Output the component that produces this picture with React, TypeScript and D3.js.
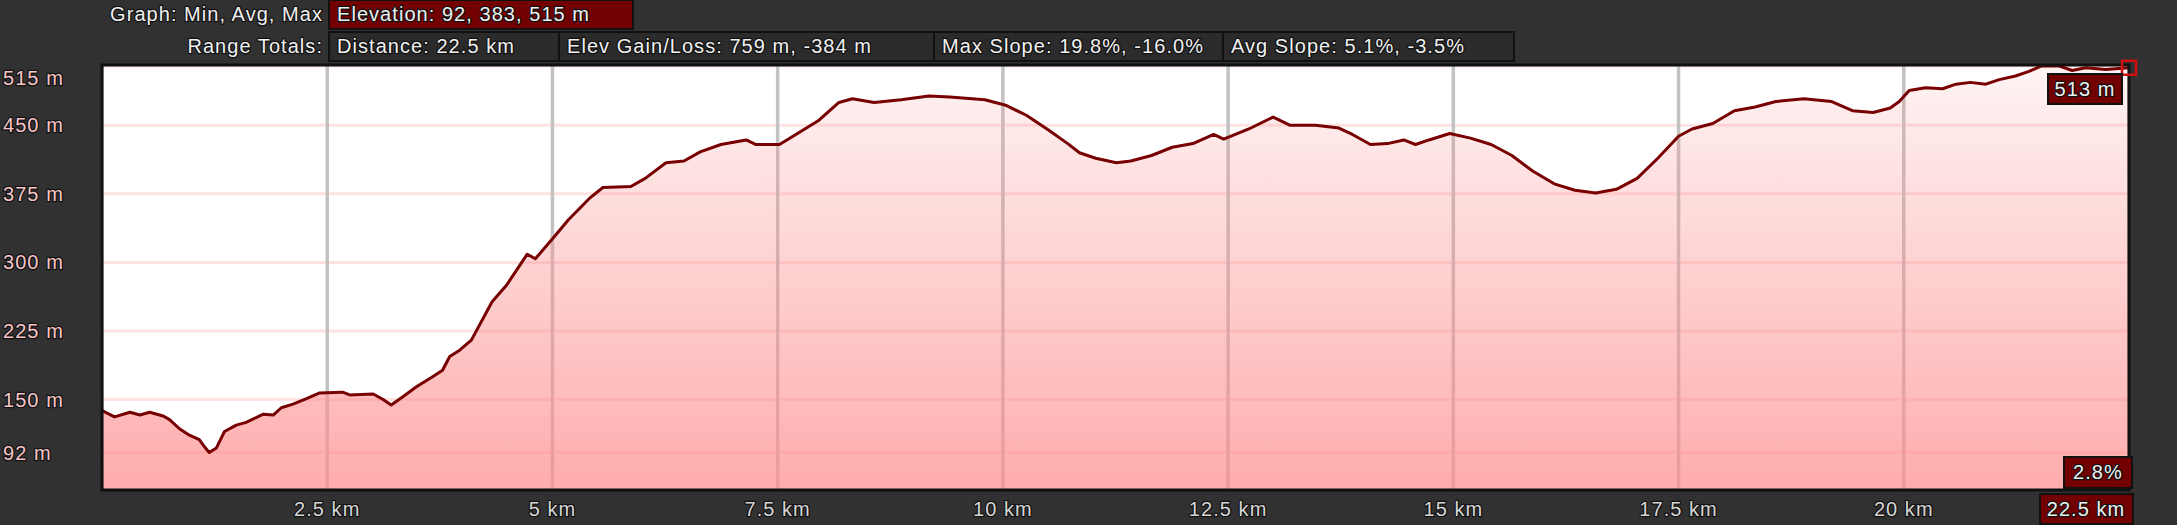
import React from 'react';
import * as d3 from 'd3';

// elevation profile
const distanceKm = [
  0, 0.14, 0.31, 0.42, 0.53, 0.68, 0.75, 0.86, 0.97, 1.08, 1.14, 1.19, 1.27, 1.36, 1.49, 1.6, 1.79, 1.9, 1.99, 2.12,
  2.27, 2.41, 2.67, 2.75, 3.01, 3.12, 3.21, 3.34, 3.49, 3.67, 3.78, 3.86, 3.97, 4.1, 4.33, 4.49, 4.72, 4.81, 5.02, 5.18,
  5.41, 5.56, 5.87, 6.03, 6.26, 6.46, 6.64, 6.87, 7.15, 7.26, 7.52, 7.72, 7.95, 8.18, 8.33, 8.57, 8.87, 9.18, 9.41, 9.8,
  10.03, 10.26, 10.49, 10.72, 10.85, 11.03, 11.26, 11.42, 11.65, 11.88, 12.11, 12.34, 12.45, 12.73, 13.0, 13.19, 13.47, 13.73, 13.88, 14.08,
  14.27, 14.45, 14.58, 14.73, 14.96, 15.19, 15.42, 15.65, 15.88, 16.12, 16.35, 16.58, 16.81, 17.04, 17.27, 17.5, 17.65, 17.88, 18.12, 18.35,
  18.58, 18.89, 19.2, 19.43, 19.66, 19.85, 19.95, 20.06, 20.24, 20.43, 20.58, 20.74, 20.91, 21.06, 21.24, 21.39, 21.53, 21.72, 21.87, 22.02,
  22.24, 22.5,
];
const elevationM = [
  138, 131, 136, 133, 136, 132, 128, 118, 111, 106, 98, 92, 97, 115, 122, 125, 134, 133, 141, 145,
  151, 157, 158, 155, 156, 150, 144, 153, 164, 175, 182, 197, 204, 215, 257, 275, 309, 304, 328, 347,
  370, 382, 383, 392, 409, 411, 421, 429, 434, 429, 429, 441, 455, 475, 479, 475, 478, 482, 481, 478,
  472, 461, 446, 430, 420, 414, 409, 411, 417, 426, 430, 440, 435, 446, 459, 450, 450, 447, 440, 429,
  430, 434, 429, 434, 441, 436, 429, 417, 400, 386, 379, 376, 380, 392, 414, 438, 446, 452, 466, 470,
  476, 479, 476, 466, 464, 469, 476, 488, 491, 490, 495, 497, 495, 500, 504, 509, 515, 515, 510, 513,
  511, 513,
];

const yTicks = [92, 150, 225, 300, 375, 450, 515];
const xTicks = [0, 2.5, 5, 7.5, 10, 12.5, 15, 17.5, 20, 22.5];
const xTickLabels = ['', '2.5 km', '5 km', '7.5 km', '10 km', '12.5 km', '15 km', '17.5 km', '20 km', ''];

const graphLabel = 'Graph: Min, Avg, Max';
const elevationSummary = 'Elevation: 92, 383, 515 m';
const rangeLabel = 'Range Totals:';
const rangeTotals = ['Distance: 22.5 km', 'Elev Gain/Loss: 759 m, -384 m', 'Max Slope: 19.8%, -16.0%', 'Avg Slope: 5.1%, -3.5%'];
const endElevation = '513 m';
const endSlope = '2.8%';
const endDistance = '22.5 km';

const W = 2177;
const H = 525;
const plot = { left: 102, right: 2129, top: 65, bottom: 490 };
const boxEdges = [329, 559, 934, 1223, 1514];

const font = { fontFamily: '"Liberation Sans", Arial, sans-serif', fontSize: 20, letterSpacing: 1.05 };

function Label({ x, y, anchor = 'start', fill = '#f0f0f0', children }: any) {
  return (
    <text x={x} y={y} textAnchor={anchor} dominantBaseline="central" fill={fill}
      stroke="#111" strokeWidth={2.5} strokeLinejoin="round" paintOrder="stroke" style={font}>
      {children}
    </text>
  );
}

export default function App() {
  const x = d3.scaleLinear().domain([0, 22.5]).range([plot.left, plot.right]);
  const y = d3.scaleLinear().domain([51, 516]).range([plot.bottom, plot.top]);
  const pts = distanceKm.map((d, i) => [d, elevationM[i]] as [number, number]);

  const area = d3.area<[number, number]>().x(d => x(d[0])).y0(plot.bottom).y1(d => y(d[1]))(pts) || '';
  const line = d3.line<[number, number]>().x(d => x(d[0])).y(d => y(d[1]))(pts) || '';
  const last = pts[pts.length - 1];

  return (
    <svg width={W} height={H} style={{ position: 'fixed', left: 0, top: 0, display: 'block' }}>
      <defs>
        <linearGradient id="fillGrad" gradientUnits="userSpaceOnUse" x1={0} y1={plot.top} x2={0} y2={plot.bottom}>
          <stop offset="0" stopColor="rgb(250,140,140)" stopOpacity={0.1} />
          <stop offset="1" stopColor="rgb(255,140,140)" stopOpacity={0.72} />
        </linearGradient>
        <clipPath id="plotClip">
          <rect x={plot.left} y={plot.top} width={plot.right - plot.left} height={plot.bottom - plot.top} />
        </clipPath>
      </defs>
      <rect width={W} height={H} fill="#313131" />

      {/* header */}
      <Label x={323} y={14} anchor="end">{graphLabel}</Label>
      <rect x={boxEdges[0]} y={0} width={633 - boxEdges[0]} height={29} fill="#730000" stroke="#111" strokeWidth={2} />
      <Label x={boxEdges[0] + 8} y={14}>{elevationSummary}</Label>
      <Label x={323} y={46} anchor="end">{rangeLabel}</Label>
      {rangeTotals.map((t, i) => (
        <g key={t}>
          <rect x={boxEdges[i]} y={32} width={boxEdges[i + 1] - boxEdges[i]} height={29} fill="#2b2b2b" stroke="#111" strokeWidth={2} />
          <Label x={boxEdges[i] + 8} y={46}>{t}</Label>
        </g>
      ))}

      {/* plot */}
      <rect x={plot.left} y={plot.top} width={plot.right - plot.left} height={plot.bottom - plot.top} fill="#fff" />
      <g clipPath="url(#plotClip)">
        {yTicks.map(t => (
          <line key={t} x1={plot.left} x2={plot.right} y1={y(t)} y2={y(t)} stroke="#ffe2e2" strokeWidth={3} />
        ))}
        {xTicks.map(t => (
          <line key={t} x1={x(t)} x2={x(t)} y1={plot.top} y2={plot.bottom} stroke="#c2c2c2" strokeWidth={3.5} />
        ))}
        <path d={area} fill="url(#fillGrad)" />
        <path d={line} fill="none" stroke="#780000" strokeWidth={3} strokeLinejoin="round" />
      </g>
      <rect x={plot.left} y={plot.top} width={plot.right - plot.left} height={plot.bottom - plot.top}
        fill="none" stroke="#111" strokeWidth={3} />

      {/* axes */}
      {yTicks.map(t => (
        <Label key={t} x={3} y={Math.max(y(t), 78)} fill="#f6c6c6">{`${t} m`}</Label>
      ))}
      {xTicks.map((t, i) => xTickLabels[i] ? (
        <Label key={t} x={x(t)} y={509} anchor="middle" fill="#d6d6d6">{xTickLabels[i]}</Label>
      ) : null)}

      {/* end markers */}
      <rect x={x(last[0]) - 7} y={y(last[1]) - 7} width={14} height={14} fill="none" stroke="#d01010" strokeWidth={2.5} />
      <rect x={2048} y={74} width={74} height={30} fill="#730000" stroke="#111" strokeWidth={2} />
      <Label x={2085} y={89} anchor="middle">{endElevation}</Label>
      <rect x={2064} y={457} width={68} height={31} fill="#730000" stroke="#111" strokeWidth={2} />
      <Label x={2098} y={472} anchor="middle">{endSlope}</Label>
      <rect x={2040} y={494} width={93} height={30} fill="#730000" stroke="#111" strokeWidth={2} />
      <Label x={2086} y={509} anchor="middle">{endDistance}</Label>
    </svg>
  );
}
